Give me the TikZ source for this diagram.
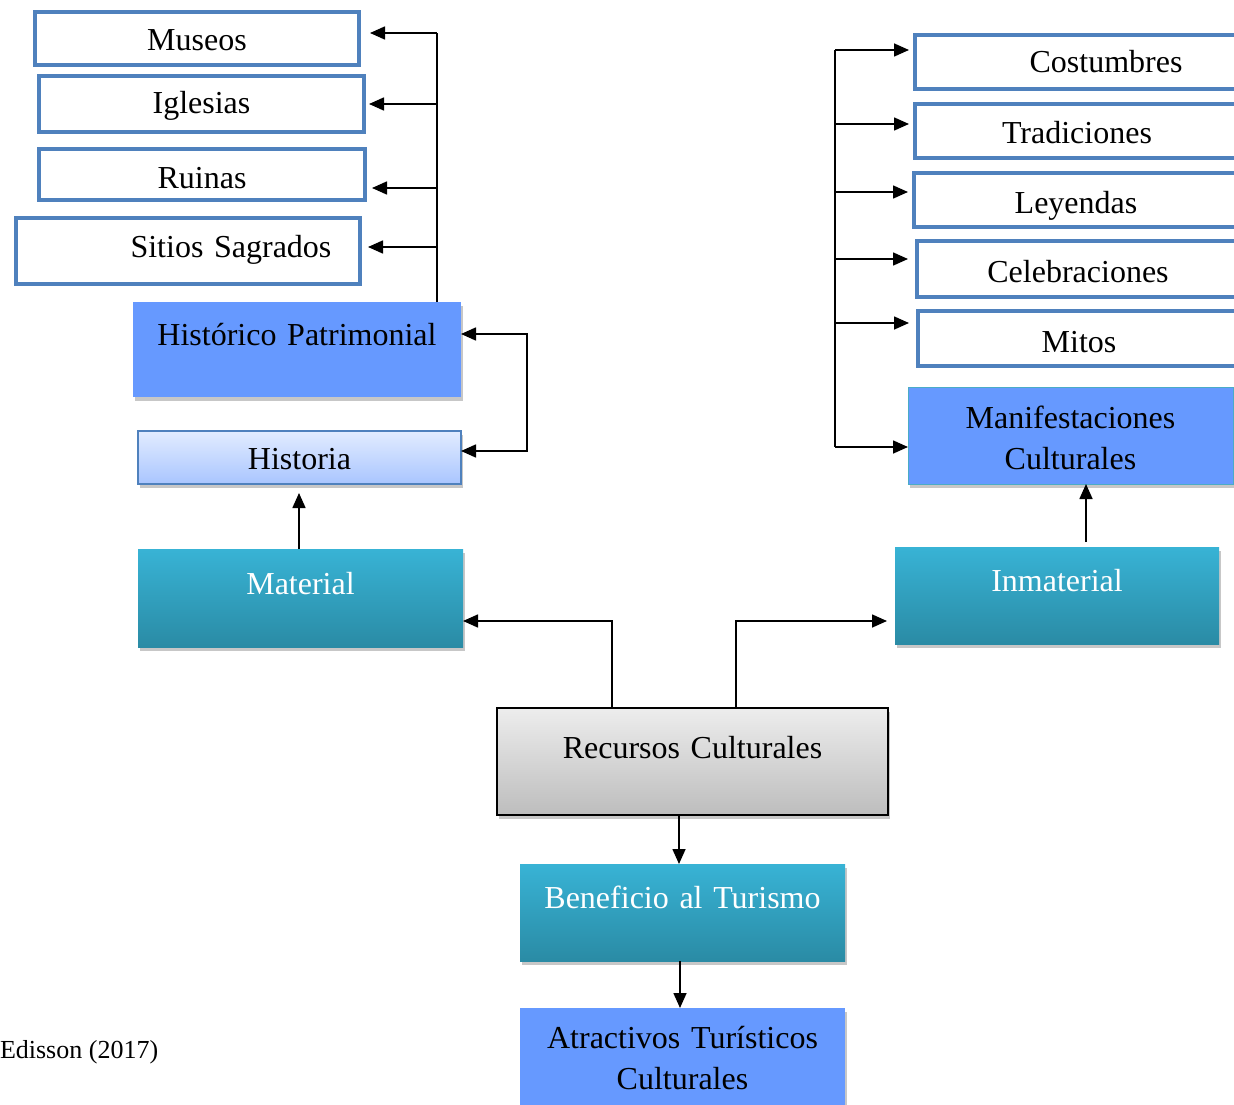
\documentclass[tikz,border=0pt]{standalone}
\usepackage{fontspec}
\setmainfont{Liberation Serif}
\usetikzlibrary{arrows.meta,shadows,calc}
\definecolor{boxblue}{HTML}{4F81BD}
\definecolor{fillblue}{HTML}{6699FF}
\definecolor{tealtop}{HTML}{38B3D5}
\definecolor{tealbot}{HTML}{2A8BA5}
\definecolor{histtop}{HTML}{E2ECFF}
\definecolor{histbot}{HTML}{A9C5FF}
\definecolor{greytop}{HTML}{EDEDED}
\definecolor{greybot}{HTML}{BDBDBD}
\definecolor{manifline}{HTML}{4BACC6}
\begin{document}
\begin{tikzpicture}[x=1pt,y=-1pt,
  font=\fontsize{32}{40}\selectfont,
  every node/.style={inner sep=0pt, outer sep=0pt, align=center, anchor=north west},
  wbox/.style={draw=boxblue, line width=4pt, fill=white},
  shad/.style={drop shadow={shadow xshift=2pt, shadow yshift=-4pt, opacity=0.22, fill=black}},
  bluebox/.style={fill=fillblue, shad},
  tealbox/.style={top color=tealtop, bottom color=tealbot, text=white, shad},
  arr/.style={line width=1.6pt, -{Triangle[length=15pt,width=13pt]}},
  ln/.style={line width=1.6pt},
  twoline/.style={font=\fontsize{32}{41}\selectfont},
]
\useasboundingbox (0,0) rectangle (1234,1105);

% left white boxes
\node[wbox, text width=324pt, text height=39pt, text depth=14pt] (museos) at (35,12) {Museos};
\node[wbox, text width=325pt, text height=38pt, text depth=18pt] (iglesias) at (39,76) {Iglesias};
\node[wbox, text width=326pt, text height=39pt, text depth=12pt] (ruinas) at (39,149) {Ruinas};
\node[wbox, text width=344pt, text height=39pt, text depth=27pt] (sitios) at (16,218) {\hspace*{86pt}Sitios Sagrados};

% left column
\node[bluebox, text width=328pt, text height=43pt, text depth=52pt] (hp) at (133,302) {Histórico Patrimonial};
\node[draw=boxblue, line width=1.5pt, top color=histtop, bottom color=histbot, shad,
      text width=323pt, text height=38pt, text depth=15pt] (historia) at (138,431) {Historia};
\node[tealbox, text width=325pt, text height=45pt, text depth=53pt] (material) at (138,549) {Material};

% centre
\node[draw=black, line width=2pt, top color=greytop, bottom color=greybot, shad,
      text width=391pt, text height=50pt, text depth=57pt] (recursos) at (497,708) {Recursos Culturales};
\node[tealbox, text width=325pt, text height=44pt, text depth=53pt] (beneficio) at (520,864) {Beneficio al Turismo};
\node[bluebox, twoline, text width=325pt, text height=40pt, text depth=67pt] (atractivos) at (520,1008) {Atractivos Turísticos\\Culturales};

% right column
\node[tealbox, text width=324pt, text height=44pt, text depth=53pt] (inmaterial) at (895,547) {Inmaterial};
\node[bluebox, twoline, draw=manifline, line width=1pt, text width=325pt, text height=41pt, text depth=56pt] (manif) at (908,387) {Manifestaciones\\Culturales};

% right white boxes
\node[wbox, text width=382pt, text height=38pt, text depth=16pt] (costumbres) at (915,35) {Costumbres};
\node[wbox, text width=324pt, text height=40pt, text depth=14pt] (tradiciones) at (915,104) {Tradiciones};
\node[wbox, text width=324pt, text height=40pt, text depth=14pt] (leyendas) at (914,173) {Leyendas};
\node[wbox, text width=322pt, text height=41pt, text depth=15pt] (celebraciones) at (917,241) {Celebraciones};
\node[wbox, text width=322pt, text height=41pt, text depth=14pt] (mitos) at (918,311) {Mitos};

% source
\node[anchor=base west, font=\fontsize{26}{32}\selectfont] (src) at (0,1058) {Edisson (2017)};

% left spine
\coordinate (l1) at (437,33);
\coordinate (l2) at (437,104);
\coordinate (l3) at (437,188);
\coordinate (l4) at (437,247);
\draw[ln] (hp.north -| l1) -- (l1);
\draw[arr, shorten >=11pt] (l1) -- (museos.east |- l1);
\draw[arr, shorten >=5pt] (l2) -- (iglesias.east |- l2);
\draw[arr, shorten >=7pt] (l3) -- (ruinas.east |- l3);
\draw[arr, shorten >=8pt] (l4) -- (sitios.east |- l4);

% bracket between Historia and Historico Patrimonial
\coordinate (b1) at (527,334);
\coordinate (b2) at (527,451);
\draw[ln, {Triangle[length=15pt,width=13pt]}-{Triangle[length=15pt,width=13pt]}]
  (hp.east |- b1) -- (b1) -- (b2) -- (historia.east |- b2);

% Material -> Historia
\coordinate (c0) at (299,0);
\draw[arr, shorten >=9pt] (material.north -| c0) -- (historia.south -| c0);

% Recursos -> Material / Inmaterial
\coordinate (m1) at (612,621);
\coordinate (m2) at (736,621);
\draw[arr] (recursos.north -| m1) -- (m1) -- (material.east |- m1);
\draw[arr, shorten >=8pt] (recursos.north -| m2) -- (m2) -- (inmaterial.west |- m2);

% down chain
\coordinate (c1) at (679,0);
\coordinate (c3) at (680,0);
\draw[arr] (recursos.south -| c1) -- (beneficio.north -| c1);
\draw[arr] (beneficio.south -| c3) -- (atractivos.north -| c3);

% Inmaterial -> Manifestaciones
\coordinate (c2) at (1086,0);
\draw[arr, shorten <=5pt] (inmaterial.north -| c2) -- (manif.south -| c2);

% right spine
\coordinate (r1) at (835,50);
\coordinate (r2) at (835,124);
\coordinate (r3) at (835,192);
\coordinate (r4) at (835,259);
\coordinate (r5) at (835,323);
\coordinate (r6) at (835,447);
\draw[ln] (r1) -- (r6);
\draw[arr, shorten >=6pt] (r1) -- (costumbres.west |- r1);
\draw[arr, shorten >=6pt] (r2) -- (tradiciones.west |- r2);
\draw[arr, shorten >=6pt] (r3) -- (leyendas.west |- r3);
\draw[arr, shorten >=9pt] (r4) -- (celebraciones.west |- r4);
\draw[arr, shorten >=9pt] (r5) -- (mitos.west |- r5);
\draw[arr] (r6) -- (manif.west |- r6);
\end{tikzpicture}
\end{document}
